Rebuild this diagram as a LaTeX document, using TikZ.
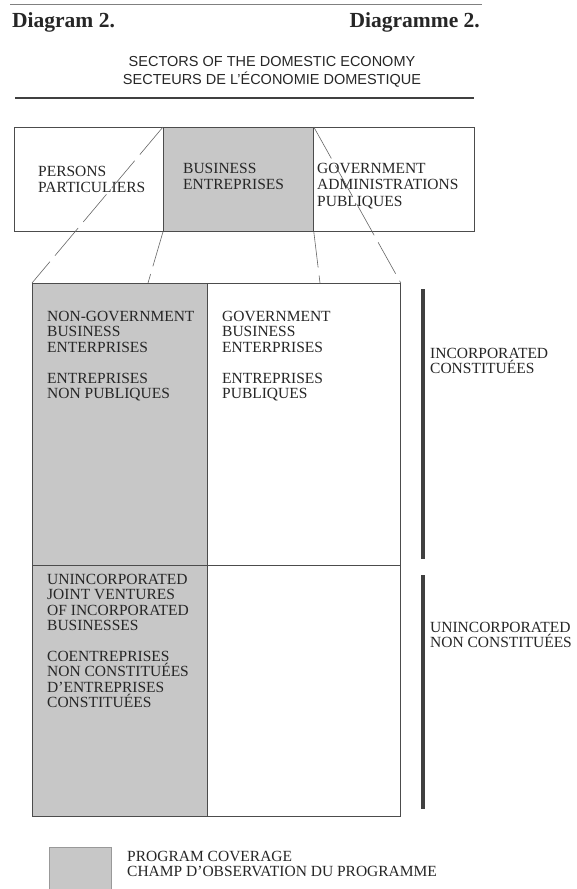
\documentclass[tikz,border=0pt]{standalone}
\usepackage{fontspec}
\setmainfont{Liberation Serif}
\setsansfont{Liberation Sans}
\usetikzlibrary{positioning}

\tikzset{
  cellbox/.style={draw=black!70, line width=0.8pt, inner sep=0pt, anchor=north west},
  cover/.style={fill=black!22},
  celltext/.style={anchor=north west, inner sep=0pt, align=left, text=black!85,
    font=\fontsize{15.5}{15.4}\selectfont},
  toptext/.style={celltext, font=\fontsize{15.5}{16.5}\selectfont},
  zoomline/.style={black!60, line width=0.6pt, dash pattern=on 36pt off 8pt},
  sidebar/.style={black!75, line width=4pt},
}

\begin{document}
\begin{tikzpicture}[x=1pt,y=-1pt]
 \useasboundingbox[fill=white] (0,0) rectangle (577,889);
 % title and rules
 \draw[black!50, line width=1pt] (10,4) -- (482,4);
 \node[anchor=base west, inner sep=0pt, font=\bfseries\fontsize{21.5}{21.5}\selectfont, text=black!85] (diagram) at (12,27) {Diagram 2.};
 \node[anchor=base east, inner sep=0pt, font=\bfseries\fontsize{21.5}{21.5}\selectfont, text=black!85] (diagramme) at (480,27) {Diagramme 2.};
 \node[align=center, inner sep=0pt, font=\sffamily\fontsize{14.5}{18}\selectfont, text=black!85] (sectors) at (272,72) {SECTORS OF THE DOMESTIC ECONOMY\\SECTEURS DE L’ÉCONOMIE DOMESTIQUE};
 \draw[black!75, line width=2.2pt] (15,98) -- (474,98);
 % sectors of the economy
 \node[cellbox, minimum width=149pt, minimum height=104pt] (persons) at (14,127) {};
 \node[cellbox, cover, minimum width=150pt, minimum height=104pt] (business) at (163,127) {};
 \node[cellbox, minimum width=161pt, minimum height=104pt] (govt) at (313,127) {};
 \node[toptext] (persons text) at (38,166) {PERSONS\\PARTICULIERS};
 \node[toptext] (business text) at (183,163) {BUSINESS\\ENTREPRISES};
 \node[toptext] (govt text) at (317,163) {GOVERNMENT\\ADMINISTRATIONS\\PUBLIQUES};
 % business sector in detail
 \node[cellbox, cover, minimum width=175pt, minimum height=282pt] (ngbe) at (32,283) {};
 \node[cellbox, minimum width=193pt, minimum height=282pt] (gbe) at (207,283) {};
 \node[cellbox, cover, minimum width=175pt, minimum height=251pt] (jv) at (32,565) {};
 \node[cellbox, minimum width=193pt, minimum height=251pt] (blank) at (207,565) {};
 \node[celltext] (ngbe text) at (47,311) {NON-GOVERNMENT\\BUSINESS\\ENTERPRISES\\[15.4pt]ENTREPRISES\\NON PUBLIQUES};
 \node[celltext] (gbe text) at (222,311) {GOVERNMENT\\BUSINESS\\ENTERPRISES\\[15.4pt]ENTREPRISES\\PUBLIQUES};
 \node[celltext] (jv text) at (47,574) {UNINCORPORATED\\JOINT VENTURES\\OF INCORPORATED\\BUSINESSES\\[15.4pt]COENTREPRISES\\NON CONSTITUÉES\\D’ENTREPRISES\\CONSTITUÉES};
 % zoom lines
 \coordinate (ngbe in) at (148,283);
 \coordinate (gbe in) at (320,283);
 \draw[zoomline] (business.north west) -- (ngbe.north west);
 \draw[zoomline] (business.south west) -- (ngbe in);
 \draw[zoomline] (business.north east) -- (gbe.north east);
 \draw[zoomline] (business.south east) -- (gbe in);
 % incorporated / unincorporated
 \coordinate (inc top) at (423,289);
 \coordinate (inc bot) at (423,559);
 \coordinate (uninc top) at (423,575);
 \coordinate (uninc bot) at (423,809);
 \draw[sidebar] (inc top) -- (inc bot);
 \draw[sidebar] (uninc top) -- (uninc bot);
 \node[celltext] (inc) at (430,348) {INCORPORATED\\CONSTITUÉES};
 \node[celltext] (uninc) at (430,622) {UNINCORPORATED\\NON CONSTITUÉES};
 % legend
 \node[cellbox, cover, draw=black!40, minimum width=62pt, minimum height=50pt] (key) at (49,847) {};
 \node[celltext] (key text) at (127,851) {PROGRAM COVERAGE\\CHAMP D’OBSERVATION DU PROGRAMME};
\end{tikzpicture}
\end{document}
